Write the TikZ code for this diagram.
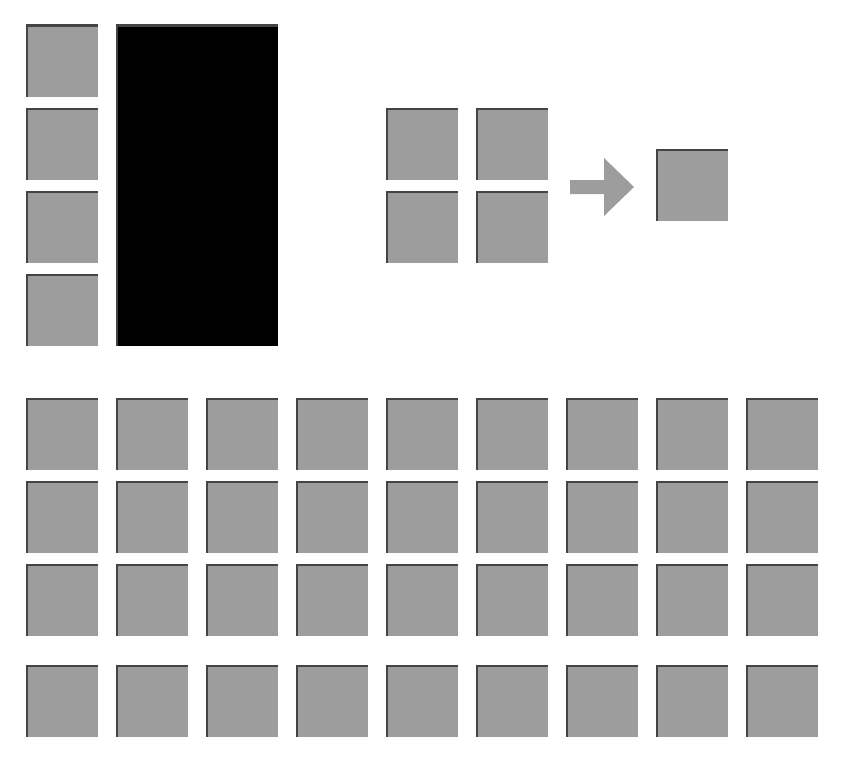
\documentclass[tikz,border=0pt]{standalone}
\definecolor{tilefill}{HTML}{9D9D9D}
\definecolor{tileedge}{HTML}{444444}
\tikzset{
  tile/.style={anchor=north west, inner sep=0pt, outer sep=0pt, minimum width=72pt, minimum height=72pt, fill=tilefill,
    path picture={\draw[line width=4pt, tileedge] (path picture bounding box.south west) -- (path picture bounding box.north west) -- (path picture bounding box.north east);}},
  bigblock/.style={anchor=north west, inner sep=0pt, outer sep=0pt, minimum width=162pt, minimum height=321pt, fill=black,
    path picture={\draw[line width=4pt, tileedge] (path picture bounding box.south west) -- (path picture bounding box.north west) -- (path picture bounding box.north east);}},
}
\begin{document}
\begin{tikzpicture}[x=1pt, y=-1pt]
\useasboundingbox (0,0) rectangle (846,784);
% left column
\foreach \r/\y in {1/25,2/108,3/191,4/274}
  \node[tile] (L\r) at (26,\y) {};
\node[bigblock] (B) at (116,25) {};
% 2x2 group
\node[tile] (G11) at (386,108) {};
\node[tile] (G12) at (476,108) {};
\node[tile] (G21) at (386,191) {};
\node[tile] (G22) at (476,191) {};
% arrow
\fill[tilefill] (570,180) -- (604,180) -- (604,158) -- (634,187) -- (604,216) -- (604,194) -- (570,194) -- cycle;
% result
\node[tile] (R) at (656,149) {};
% bottom grid
\foreach \r/\y in {1/398,2/481,3/564,4/665}
  \foreach \c in {0,...,8}
    \node[tile] (T\r-\c) at ({26+90*\c},\y) {};
\end{tikzpicture}
\end{document}
